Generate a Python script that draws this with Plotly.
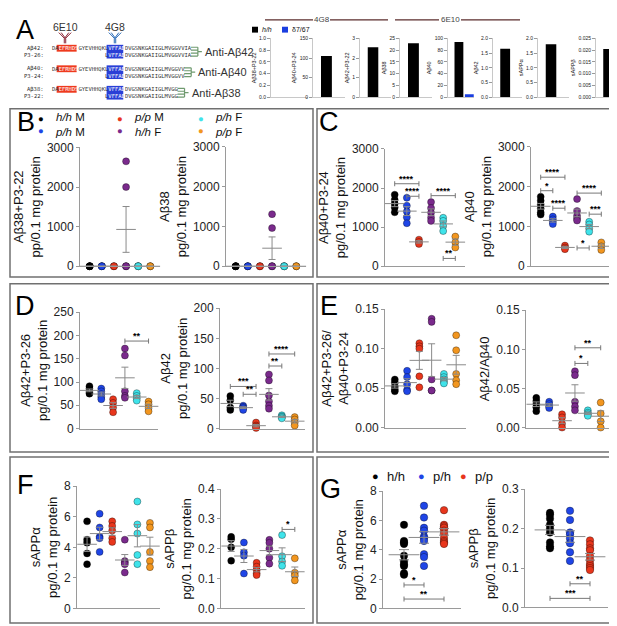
import numpy as np
import plotly.graph_objects as go

W, H = 617, 626


def px(x):
    return x / W


def py(y):
    return 1 - y / H


# ---------------- data ----------------
groups6 = ['h/h M', 'p/h M', 'p/p M', 'h/h F', 'p/h F', 'p/p F']
colors6 = ['#000000', '#1f45e6', '#e8361c', '#7a2a8c', '#3fe3ea', '#f2961f']
groups3 = ['h/h', 'p/h', 'p/p']
colors3 = ['#000000', '#1f45e6', '#e8361c']

# panel A, mini bar charts (h/h vs d7/67)
bar_titles = ['Aβ38+P3-22', 'Aβ40+P3-24', 'Aβ42+P3-22', 'Aβ38', 'Aβ40', 'Aβ42', 'sAPPα', 'sAPPβ']
bar_hh = [0, 105, 2.55, 23, 94, 1.65, 1.8, 0.0205]
bar_d767 = [0, 0, 0, 0, 5, 0, 0, 0]
bar_ymax = [1.0, 150, 3, 25, 100, 2.0, 2.0, 0.025]
bar_dtick = [0.2, 50, 1, 5, 20, 0.5, 0.5, 0.005]
bar_fmt = ['.1f', 'd', 'd', 'd', 'd', '.1f', '.1f', '.3f']

# panel B
b_ab38p3 = [[0, 0, 0, 0, 0], [0, 0, 0, 0], [0, 0, 0], [2650, 2000, 0, 0, 0], [0, 0, 0, 0], [0, 0, 0]]
b_ab38 = [[0, 0, 0, 0, 0], [0, 0, 0, 0], [0, 0, 0], [1310, 960, 0, 0, 0], [0, 0, 0, 0], [0, 0, 0]]
# panel C
c_ab40p3 = [[1830, 1700, 1600, 1500, 1380], [1750, 1550, 1400, 1250, 1100], [680, 620, 570],
            [1640, 1490, 1370, 1240, 1160], [1240, 1160, 1030, 900], [760, 610, 480]]
c_ab40 = [[1750, 1650, 1550, 1450, 1350, 1300], [1250, 1180, 1120, 1060], [520, 470, 430],
          [1690, 1390, 1270, 1200, 1150], [1120, 1050, 950, 870], [600, 500, 410]]
# panel D
d_ab42p3 = [[91, 86, 81, 77, 75], [86, 80, 74, 68, 63], [63, 55, 45, 35],
            [172, 157, 80, 70, 66], [76, 70, 65, 60], [58, 52, 44, 37]]
d_ab42 = [[54, 47, 35, 31], [38, 36, 34, 31], [10, 5, 3, 1],
          [90, 80, 55, 45, 38, 33], [22, 20, 19, 17], [19, 15, 10, 5]]
# panel E
e_ratio_p3 = [[0.061, 0.057, 0.052, 0.048, 0.046], [0.072, 0.064, 0.055, 0.048, 0.046],
              [0.107, 0.103, 0.100, 0.065, 0.051], [0.138, 0.134, 0.061, 0.047, 0.047],
              [0.068, 0.064, 0.061, 0.058, 0.056], [0.117, 0.098, 0.068, 0.060, 0.055]]
e_ratio = [[0.038, 0.034, 0.030, 0.026, 0.021], [0.033, 0.030, 0.027, 0.025],
           [0.017, 0.013, 0.005, 0.0], [0.072, 0.067, 0.033, 0.027, 0.022],
           [0.022, 0.019, 0.017, 0.015], [0.032, 0.018, 0.008, 0.0]]
# panel F
f_sappa = [[5.7, 4.5, 4.3, 3.6, 2.9], [6.2, 5.3, 4.7, 4.6, 3.7], [5.7, 5.4, 5.1, 4.6, 4.35],
           [4.5, 3.1, 3.0, 2.9, 2.35], [7.0, 5.5, 4.9, 3.5, 2.9], [5.6, 5.3, 3.7, 3.1, 2.7]]
f_sappb = [[0.24, 0.232, 0.205, 0.16], [0.221, 0.188, 0.177, 0.117], [0.153, 0.14, 0.128, 0.118, 0.112],
           [0.23, 0.22, 0.2, 0.17, 0.15], [0.246, 0.175, 0.157, 0.143], [0.168, 0.12, 0.11, 0.094]]
# panel G
g_sappa = [[5.7, 4.6, 4.5, 4.4, 3.6, 3.2, 3.0, 2.9, 2.4, 2.3],
           [7.0, 6.2, 5.5, 5.3, 4.9, 4.8, 4.6, 3.7, 3.5, 2.9],
           [6.7, 5.7, 5.6, 5.5, 5.3, 5.1, 4.8, 4.6, 4.5, 4.4]]
g_sappb = [[0.24, 0.235, 0.225, 0.21, 0.2, 0.19, 0.165, 0.155, 0.15],
           [0.245, 0.222, 0.19, 0.185, 0.175, 0.163, 0.14, 0.118],
           [0.17, 0.16, 0.15, 0.145, 0.13, 0.12, 0.11, 0.105, 0.1, 0.095]]

# significance brackets: (group i, group j, y, label)
sig_c_ab40p3 = [(0, 2, 2110, '****'), (1, 2, 1790, '****'), (3, 5, 1805, '****'), (4, 5, 200, '**')]
sig_c_ab40 = [(0, 2, 2240, '****'), (0, 1, 1900, '*'), (1, 2, 1460, '****'), (3, 5, 1840, '****'),
              (4, 5, 1310, '***'), (3, 4, 460, '*')]
sig_d_ab42p3 = [(3, 5, 188, '**')]
sig_d_ab42 = [(0, 2, 70, '***'), (1, 2, 57, '**'), (3, 4, 104, '**'), (3, 5, 124, '****')]
sig_e_ratio = [(3, 5, 0.102, '**'), (3, 4, 0.082, '*')]
sig_f_sappb = [(4, 5, 0.265, '*')]
sig_g_sappa = [(0, 1, 1.6, '*'), (0, 2, 0.64, '**')]
sig_g_sappb = [(1, 2, 0.06, '**'), (0, 2, 0.023, '***')]

FONT = 'Liberation Sans, Arial, sans-serif'
MONO = 'DejaVu Sans Mono, monospace'
AXC = '#9a9a9a'
SEMC = '#8a8a8a'

fig = go.Figure()
layout = {}
shapes = []
annos = []


def ref(n, k):
    return k if n == 1 else f'{k}{n}'


def axkey(n, k):
    return f'{k}axis' if n == 1 else f'{k}axis{n}'


def make_axes(n, x0, x1, ytop, ybot, xr, yr, tickvals, fmt, title, tsize=12, ttsize=13, standoff=3):
    layout[axkey(n, 'x')] = dict(
        domain=[px(x0), px(x1)], range=xr, anchor=ref(n, 'y'), showline=True, linecolor=AXC,
        linewidth=1, ticks='', showticklabels=False, showgrid=False, zeroline=False, fixedrange=True)
    layout[axkey(n, 'y')] = dict(
        domain=[py(ybot), py(ytop)], range=yr, anchor=ref(n, 'x'), showline=True, linecolor=AXC,
        linewidth=1, ticks='outside', ticklen=3, tickcolor=AXC, tickvals=tickvals, tickformat=fmt,
        tickfont=dict(size=tsize, color='#222', family=FONT), showgrid=False, zeroline=False,
        title=dict(text=title, font=dict(size=ttsize, color='#111', family=FONT), standoff=standoff),
        fixedrange=True)


def scatter_panel(n, data, colors, msize=7, mwidth=14, cap=3.5):
    xs = ref(n, 'x')
    ys = ref(n, 'y')
    for i, vals in enumerate(data):
        fig.add_trace(go.Scatter(
            x=[i] * len(vals), y=vals, mode='markers', xaxis=xs, yaxis=ys, cliponaxis=False,
            marker=dict(size=msize, color=colors[i], line=dict(width=0.6, color='rgba(0,0,0,0.55)')),
            showlegend=False, hoverinfo='y'))
    means = [float(np.mean(v)) for v in data]
    sems = [float(np.std(v, ddof=1) / np.sqrt(len(v))) for v in data]
    fig.add_trace(go.Scatter(
        x=list(range(len(data))), y=means, mode='markers', xaxis=xs, yaxis=ys, cliponaxis=False,
        marker=dict(symbol='line-ew', size=mwidth, line=dict(width=1, color=SEMC)),
        error_y=dict(type='data', array=sems, visible=True, color=SEMC, thickness=1, width=cap),
        showlegend=False, hoverinfo='skip'))


def brackets(n, sigs):
    xs = ref(n, 'x')
    ys = ref(n, 'y')
    for i, j, y, lab in sigs:
        shapes.append(dict(type='line', xref=xs, yref=ys, x0=i, x1=j, y0=y, y1=y,
                           line=dict(color='#777', width=1)))
        for xe in (i, j):
            shapes.append(dict(type='line', xref=xs, yref=ys, ysizemode='pixel', yanchor=y,
                               x0=xe, x1=xe, y0=-2.5, y1=2.5, line=dict(color='#777', width=1)))
        annos.append(dict(x=(i + j) / 2, y=y, xref=xs, yref=ys, text='<b>' + lab + '</b>', showarrow=False,
                          yanchor='bottom', yshift=-2, font=dict(size=9, color='#000000', family=FONT)))


# ---------------- panel A: mini bar charts ----------------
mini_x = [(263, 300), (305, 337), (352, 383), (392, 424), (440, 466), (485, 514), (530, 561), (588, 617)]
for k in range(8):
    n = k + 1
    ticks = list(np.round(np.arange(0, bar_ymax[k] + bar_dtick[k] / 2, bar_dtick[k]), 4))
    make_axes(n, mini_x[k][0], mini_x[k][1], 24, 84, [-1.05, 1.45], [0, bar_ymax[k]], ticks,
              bar_fmt[k], bar_titles[k], tsize=5, ttsize=5.5, standoff=2)
    layout[axkey(n, 'y')]['linecolor'] = '#c8c8c8'
    layout[axkey(n, 'x')]['linecolor'] = '#c8c8c8'
    fig.add_trace(go.Bar(x=[0, 1], y=[bar_hh[k], bar_d767[k]], width=0.85,
                         marker=dict(color=['#000000', '#1a3ee0'], line=dict(width=0)),
                         xaxis=ref(n, 'x'), yaxis=ref(n, 'y'), showlegend=False))

# ---------------- panels B-G ----------------
ticks_k = [0, 1000, 2000, 3000]
r6 = [-0.8, 5.8]
panels = [
    # n, x0, x1, ytop, ybot, yrange, ticks, fmt, title, data, sigs
    (9, 72, 152, 135.5, 257, [0, 3000], ticks_k, 'd', 'Aβ38+P3-22<br>pp/0.1 mg protein', b_ab38p3, []),
    (10, 218, 298, 135, 257, [0, 3000], ticks_k, 'd', 'Aβ38<br>pg/0.1 mg protein', b_ab38, []),
    (11, 377, 457, 137, 257, [0, 3000], ticks_k, 'd', 'Aβ40+P3-24<br>pg/0.1 mg protein', c_ab40p3, sig_c_ab40p3),
    (12, 523, 603, 135, 257, [0, 3000], ticks_k, 'd', 'Aβ40<br>pg/0.1 mg protein', c_ab40, sig_c_ab40),
    (13, 72, 150, 304, 423, [0, 250], [0, 50, 100, 150, 200, 250], 'd', 'Aβ42+P3-26<br>pg/0.1 mg protein',
     d_ab42p3, sig_d_ab42p3),
    (14, 212, 297, 300, 423, [0, 200], [0, 50, 100, 150, 200], 'd', 'Aβ42<br>pg/0.1 mg protein',
     d_ab42, sig_d_ab42),
    (15, 377, 458, 301, 422, [0, 0.15], [0, 0.05, 0.10, 0.15], '.2f', 'Aβ42+P3-26/<br>Aβ40+P3-24',
     e_ratio_p3, []),
    (16, 518, 603, 302, 422, [0, 0.15], [0, 0.05, 0.10, 0.15], '.2f', 'Aβ42/Aβ40', e_ratio, sig_e_ratio),
    (17, 69, 152, 482, 607, [0, 8], [0, 2, 4, 6, 8], 'd', 'sAPPα<br>pg/0.1 mg protein', f_sappa, []),
    (18, 213, 297, 485, 607, [0, 0.4], [0, 0.1, 0.2, 0.3, 0.4], '.1f', 'sAPPβ<br>pg/0.1 mg protein',
     f_sappb, sig_f_sappb),
]
for n, x0, x1, yt, yb, yr, tv, fmt, title, data, sigs in panels:
    make_axes(n, x0, x1, yt, yb, r6, yr, tv, fmt, title)
    scatter_panel(n, data, colors6)
    brackets(n, sigs)

make_axes(19, 375, 453, 487, 607, [-1.05, 2.85], [0, 8], [0, 2, 4, 6, 8], 'd', 'sAPPα<br>pg/0.1 mg protein')
scatter_panel(19, g_sappa, colors3, msize=7.5, mwidth=22, cap=5)
brackets(19, sig_g_sappa)
make_axes(20, 517, 600, 485, 606, [-1.25, 2.9], [0, 0.3], [0, 0.1, 0.2, 0.3], '.1f',
          'sAPPβ<br>pg/0.1 mg protein')
scatter_panel(20, g_sappb, colors3, msize=7.5, mwidth=22, cap=5)
brackets(20, sig_g_sappb)

# ---------------- panel frames and letters ----------------
for x0, y0, x1, y1 in [(2, 96, 305, 268), (309, 96, 614, 268), (2, 275, 305, 447), (309, 275, 614, 447),
                       (2, 452, 305, 622), (309, 452, 614, 622)]:
    shapes.append(dict(type='rect', xref='paper', yref='paper', x0=px(x0), x1=px(x1), y0=py(y1), y1=py(y0),
                       line=dict(color='#707070', width=1.5)))
for lab, x, y in [('A', 17, 15), ('B', 18, 109), ('C', 321, 109), ('D', 17, 298), ('E', 321, 298),
                  ('F', 17, 481), ('G', 322, 485)]:
    annos.append(dict(x=px(x), y=py(y), xref='paper', yref='paper', text=lab, showarrow=False,
                      xanchor='center', yanchor='middle', font=dict(size=27, color='#000', family=FONT)))

# legend B: three columns, two rows each (one annotation per column)
leg_cols = [(33, 0, 1), (112, 2, 3), (193, 4, 5)]
for x, a, b in leg_cols:
    dots = (f"<span style='color:{colors6[a]}'>●</span><br>"
            f"<span style='color:{colors6[b]}'>●</span>")
    annos.append(dict(x=px(x), y=py(112), xref='paper', yref='paper', text=dots, showarrow=False,
                      xanchor='center', yanchor='middle', borderpad=0,
                      font=dict(size=9.5, color='#000', family=FONT)))
    labs = []
    for ci in (a, b):
        g, sx = groups6[ci].split(' ')
        labs.append(f'<i>{g}</i> {sx}')
    annos.append(dict(x=px(x + 13), y=py(112), xref='paper', yref='paper', text='<br>'.join(labs),
                      showarrow=False, xanchor='left', yanchor='middle', align='left', borderpad=0,
                      font=dict(size=11.5, color='#111', family=FONT)))
# legend G
for k, (g, x) in enumerate(zip(groups3, [367, 413, 455])):
    annos.append(dict(x=px(x), y=py(472), xref='paper', yref='paper', text='●', showarrow=False,
                      xanchor='center', yanchor='middle', font=dict(size=11, color=colors3[k], family=FONT)))
    annos.append(dict(x=px(x + 10), y=py(472), xref='paper', yref='paper', text=g, showarrow=False,
                      xanchor='left', yanchor='middle', font=dict(size=13, color='#111', family=FONT)))

# ---------------- panel A: sequence diagram ----------------
ab42 = 'DAEFRHDSGYEVHHQKLVFFAEDVGSNKGAIIGLMVGGVVIA'
CW = 3.33
SX = 42
W_SPAN = "<span style='color:white'>"


def mark(seq, start):
    out = ''
    for idx, ch in enumerate(seq):
        pos = idx + start
        if 2 <= pos < 8 or 17 <= pos < 22:
            out += W_SPAN + ch + '</span>'
        else:
            out += ch
    return out


rows = [('Aβ42:', 'P3-26:', 42, 34, 'Anti-Aβ42'), ('Aβ40:', 'P3-24:', 40, 55, 'Anti-Aβ40'),
        ('Aβ38:', 'P3-22:', 38, 76, 'Anti-Aβ38')]
for name, p3name, length, y, anti in rows:
    y2 = y + 7
    # epitope highlights
    shapes.append(dict(type='rect', xref='paper', yref='paper', x0=px(SX + 2 * CW), x1=px(SX + 8 * CW),
                       y0=py(y + 3.5), y1=py(y - 3.5), fillcolor='#ee3a1e', line=dict(width=0), layer='below'))
    shapes.append(dict(type='rect', xref='paper', yref='paper', x0=px(SX + 17 * CW), x1=px(SX + 22 * CW),
                       y0=py(y2 + 3.5), y1=py(y - 3.5), fillcolor='#2a3fd6', line=dict(width=0), layer='below'))
    seq = ab42[:length]
    for txt, yy, st in [(name, y, 0), (p3name, y2, 16)]:
        annos.append(dict(x=px(38), y=py(yy), xref='paper', yref='paper', text=txt, showarrow=False,
                          xanchor='right', yanchor='middle', font=dict(size=5.5, color='#333', family=MONO)))
        annos.append(dict(x=px(SX + st * CW), y=py(yy), xref='paper', yref='paper', text=mark(seq[st:], st),
                          showarrow=False, xanchor='left', yanchor='middle',
                          font=dict(size=5.5, color='#333', family=MONO)))
    # capture antibody icon
    x0 = SX + length * CW + 1
    yc = (y + y2) / 2
    path = ''
    for dy in (-4.5, -1.5, 1.5, 4.5):
        path += f'M {px(x0)},{py(yc + dy)} L {px(x0 + 7)},{py(yc + dy)} '
    path += f'M {px(x0 + 7)},{py(yc - 4.5)} L {px(x0 + 7)},{py(yc + 4.5)} '
    path += f'M {px(x0 + 7)},{py(yc)} L {px(x0 + 11)},{py(yc)}'
    shapes.append(dict(type='path', xref='paper', yref='paper', path=path, line=dict(color='#6f9a6f', width=1.2)))
    annos.append(dict(x=px(x0 + 12), y=py(yc), xref='paper', yref='paper', text=anti, showarrow=False,
                      xanchor='left', yanchor='middle', font=dict(size=11, color='#333', family=FONT)))

# detection antibodies
for lab, x, col in [('6E10', 57, '#8b2636'), ('4G8', 107, '#2b6cb8')]:
    annos.append(dict(x=px(x), y=py(12), xref='paper', yref='paper', text=lab, showarrow=False,
                      xanchor='center', yanchor='middle', font=dict(size=10.5, color='#333', family=FONT)))
    for off in (-1.2, 1.2):
        path = (f'M {px(x - 5 + off)},{py(18)} L {px(x + off * 0.4)},{py(24)} L {px(x + 5 + off)},{py(18)} '
                f'M {px(x + off * 0.6)},{py(24)} L {px(x + off * 0.6)},{py(29)}')
        shapes.append(dict(type='path', xref='paper', yref='paper', path=path, line=dict(color=col, width=1)))

# mini legend and antibody spans
shapes.append(dict(type='rect', xref='paper', yref='paper', x0=px(244), x1=px(250), y0=py(18), y1=py(12),
                   fillcolor='#000', line=dict(width=0)))
shapes.append(dict(type='rect', xref='paper', yref='paper', x0=px(274), x1=px(280), y0=py(18), y1=py(12),
                   fillcolor='#1a3ee0', line=dict(width=0)))
annos.append(dict(x=px(252), y=py(15), xref='paper', yref='paper', text='<i>h/h</i>', showarrow=False,
                  xanchor='left', yanchor='middle', font=dict(size=7, color='#111', family=FONT)))
annos.append(dict(x=px(282), y=py(15), xref='paper', yref='paper', text='δ7/67', showarrow=False,
                  xanchor='left', yanchor='middle', font=dict(size=7, color='#111', family=FONT)))
for lab, a0, a1, b0, b1, xt in [('4G8', 257, 305, 322, 380, 313.5), ('6E10', 387, 431, 453, 512, 442)]:
    for s0, s1 in [(a0, a1), (b0, b1)]:
        shapes.append(dict(type='line', xref='paper', yref='paper', x0=px(s0), x1=px(s1), y0=py(5), y1=py(5),
                           line=dict(color='#5b2c2c', width=1.2)))
    annos.append(dict(x=px(xt), y=py(5), xref='paper', yref='paper', text=lab, showarrow=False,
                      xanchor='center', yanchor='middle', font=dict(size=8, color='#444', family=FONT)))

fig.update_layout(width=W, height=H, margin=dict(l=0, r=0, t=0, b=0), paper_bgcolor='white',
                  plot_bgcolor='rgba(0,0,0,0)', showlegend=False, shapes=shapes, annotations=annos,
                  font=dict(family=FONT), **layout)
fig.write_html('out.html')
